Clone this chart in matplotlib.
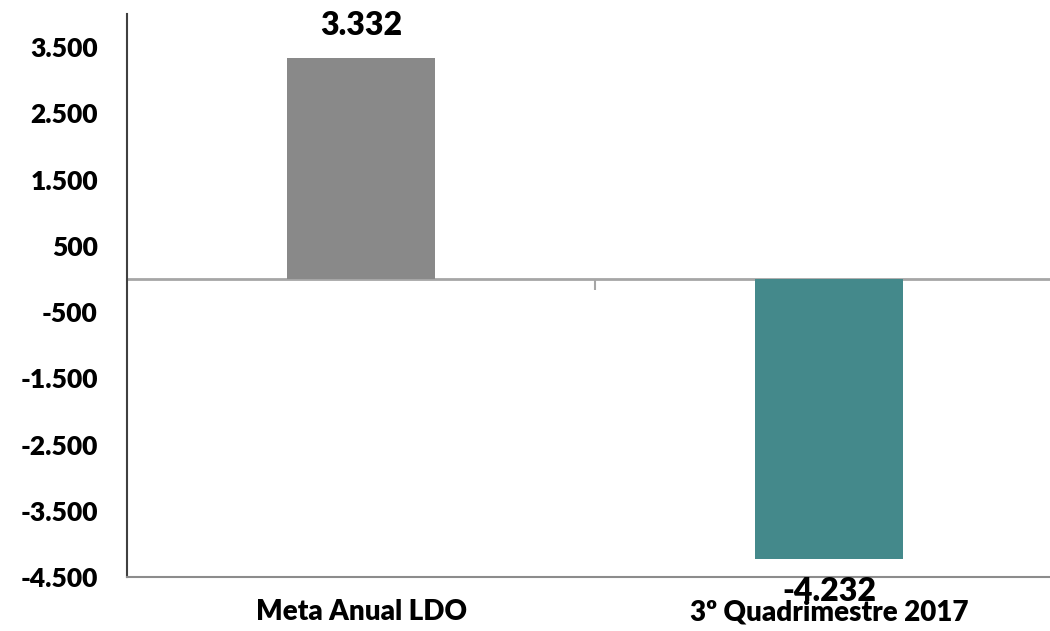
import matplotlib.pyplot as plt
from matplotlib.ticker import FuncFormatter

categories = ["Meta Anual LDO", "3º Quadrimestre 2017"]
values = [3332, -4232]
bar_colors = ["#898989", "#44898B"]
yticks = [3500, 2500, 1500, 500, -500, -1500, -2500, -3500, -4500]


def br_fmt(v, pos=None):
    return f"{v:,.0f}".replace(",", ".")


plt.rcParams['font.family'] = ['Lato', 'DejaVu Sans']
plt.rcParams['font.weight'] = 'heavy'

fig = plt.figure(figsize=(10.5, 6.31), dpi=100)
ax = fig.add_axes([127 / 1050, 1 - 577 / 631, 936 / 1050, 563 / 631])

x = list(range(len(categories)))
bars = ax.bar(x, values, width=0.316, color=bar_colors, zorder=2)

ax.set_xlim(-0.5, 1.5)
ax.set_ylim(-4500, 4000)
ax.set_yticks(yticks)
ax.yaxis.set_major_formatter(FuncFormatter(br_fmt))
ax.tick_params(axis='y', length=0, pad=21, labelsize=19)
ax.set_xticks(x)
ax.set_xticklabels(categories, fontsize=20)
ax.tick_params(axis='x', length=0, pad=16)

for s in ['top', 'right']:
    ax.spines[s].set_visible(False)
ax.spines['left'].set_color('#404040')
ax.spines['left'].set_linewidth(1.5)
ax.spines['bottom'].set_color('#8C8C8C')
ax.spines['bottom'].set_linewidth(1.5)

# zero line with the category divider tick
zero_frac = (0 - (-4500)) / (4000 - (-4500))
zax = ax.secondary_xaxis(zero_frac)
zax.set_alignment('bottom')
zax.set_xticks([0.5])
zax.set_xticklabels([])
zax.tick_params(direction='out', length=8, width=1.5, color='#A6A6A6')
for sp in zax.spines.values():
    sp.set_color('#A6A6A6')
    sp.set_linewidth(2)

ax.bar_label(bars, labels=[br_fmt(v) for v in values], padding=13,
             fontsize=23)

fig.savefig("out.png", dpi=100)
